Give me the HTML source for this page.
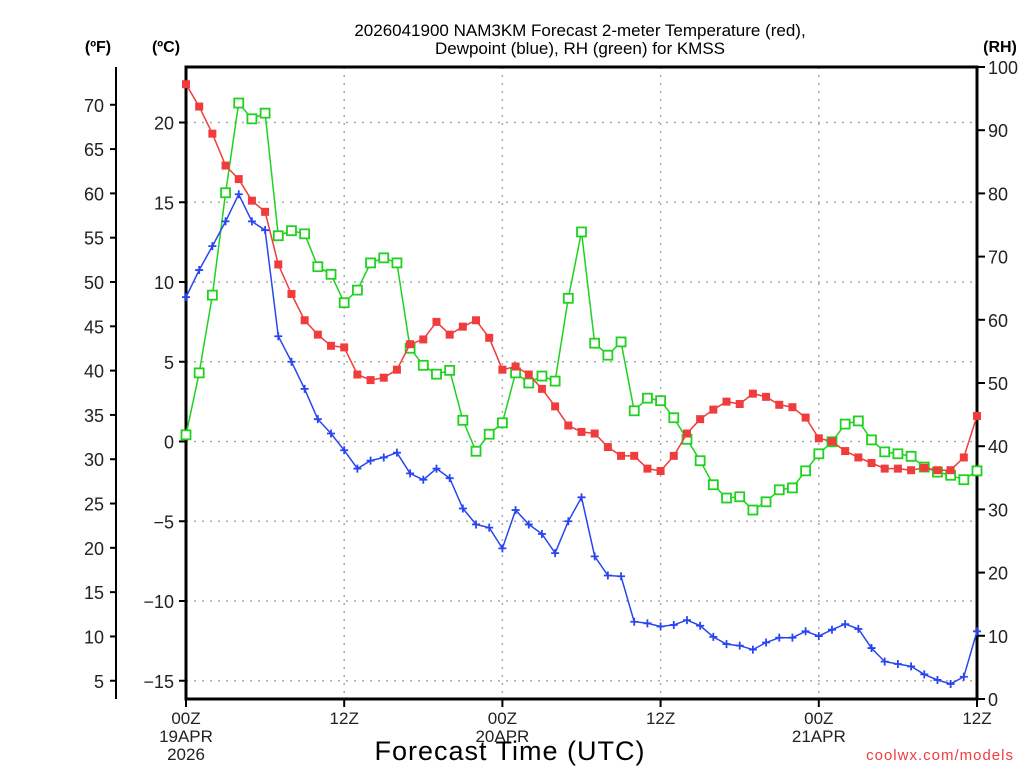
<!DOCTYPE html>
<html><head><meta charset="utf-8"><style>
body{margin:0;background:#fff;}
svg{display:block;font-family:"Liberation Sans",sans-serif;}
</style></head><body>
<svg id="chart" width="1024" height="768" viewBox="0 0 1024 768">
<rect width="1024" height="768" fill="#fff"/>
<g id="grid"></g>
<g id="axes"></g>
<g id="series"></g>
<text x="580" y="36" text-anchor="middle" font-size="17" fill="#000">2026041900 NAM3KM Forecast 2-meter Temperature (red),</text>
<text x="580" y="54" text-anchor="middle" font-size="17" fill="#000">Dewpoint (blue), RH (green) for KMSS</text>
<text x="98" y="52" text-anchor="middle" font-size="16" font-weight="bold">(ºF)</text>
<text x="166" y="52" text-anchor="middle" font-size="16" font-weight="bold">(ºC)</text>
<text x="1000" y="52" text-anchor="middle" font-size="16" font-weight="bold">(RH)</text>
<text x="510" y="760" text-anchor="middle" font-size="27" letter-spacing="1">Forecast Time (UTC)</text>
<text x="1014" y="760" text-anchor="end" font-size="15" fill="#f03c3c" letter-spacing="1">coolwx.com/models</text>
</svg>
<script>
const hours=[0,1,2,3,4,5,6,7,8,9,10,11,12,13,14,15,16,17,18,19,20,21,22,23,24,25,26,27,28,29,30,31,32,33,34,35,36,37,38,39,40,41,42,43,44,45,46,47,48,49,50,51,52,53,54,55,56,57,58,59,60];
const tempC=[22.4,21.0,19.3,17.3,16.45,15.1,14.4,11.1,9.25,7.6,6.7,6.0,5.9,4.2,3.85,4.0,4.5,6.1,6.4,7.5,6.7,7.2,7.6,6.5,4.5,4.7,4.2,3.3,2.2,1.0,0.6,0.5,-0.35,-0.9,-0.9,-1.7,-1.85,-0.9,0.5,1.4,2.0,2.5,2.35,3.0,2.8,2.3,2.15,1.5,0.2,0.0,-0.6,-1.0,-1.35,-1.7,-1.7,-1.8,-1.65,-1.8,-1.8,-1.0,1.6];
const dewC=[9.05,10.75,12.25,13.8,15.5,13.8,13.25,6.6,5.0,3.3,1.4,0.5,-0.55,-1.7,-1.2,-1.0,-0.7,-2.0,-2.4,-1.7,-2.3,-4.2,-5.2,-5.4,-6.7,-4.3,-5.2,-5.8,-7.0,-5.0,-3.5,-7.2,-8.4,-8.45,-11.3,-11.4,-11.6,-11.5,-11.2,-11.55,-12.25,-12.7,-12.8,-13.05,-12.6,-12.3,-12.3,-11.9,-12.2,-11.8,-11.45,-11.75,-12.95,-13.8,-13.95,-14.1,-14.6,-14.95,-15.2,-14.75,-11.9];
const rh=[41.8,51.6,63.9,80.1,94.3,91.8,92.7,73.3,74.1,73.6,68.4,67.2,62.7,64.7,69,69.8,69,55.5,52.8,51.4,52,44.1,39.2,41.9,43.7,51.6,50,51.1,50.3,63.4,73.9,56.3,54.4,56.5,45.6,47.6,47.2,44.5,41.1,37.7,33.9,31.8,32.0,29.9,31.2,33.1,33.4,36.1,38.8,40.7,43.5,44,41,39.1,38.8,38.4,36.7,35.9,35.4,34.7,36.1];
const cTicks=[20,15,10,5,0,-5,-10,-15];
const cTickLabels=["20","15","10","5","0","−5","−10","−15"];
const fTicks=[70,65,60,55,50,45,40,35,30,25,20,15,10,5];
const rhTicks=[100,90,80,70,60,50,40,30,20,10,0];
const xTicks=[0,12,24,36,48,60];
const xTickLabels=[["00Z","19APR","2026"],["12Z"],["00Z","20APR"],["12Z"],["00Z","21APR"],["12Z"]];

const L=186,R=977,T=67,B=699;
const xs=h=>L+(R-L)*h/60;
const yC=c=>441.5-15.95*c;
const yF=f=>yC((f-32)*5/9);
const yRH=r=>B-(B-T)*r/100;
const NS="http://www.w3.org/2000/svg";
function mk(tag,attrs,parent){const e=document.createElementNS(NS,tag);for(const k in attrs)e.setAttribute(k,attrs[k]);parent.appendChild(e);return e;}
const grid=document.getElementById('grid'),axes=document.getElementById('axes'),ser=document.getElementById('series');

cTicks.forEach((c,i)=>{
 const g=mk('line',{x1:L,x2:R,y1:yC(c),y2:yC(c),stroke:'#aaa','stroke-width':1.5,'stroke-dasharray':'2 6'},grid);
 
 
 const t=mk('line',{x1:179,x2:L,y1:yC(c),y2:yC(c),stroke:'#000','stroke-width':2},axes);
 
 
 const lb=mk('text',{x:174,y:yC(c)+7,'text-anchor':'end','font-size':18,fill:'#222'},axes);
 lb.textContent=cTickLabels[i];
 
 
});
xTicks.forEach((h,i)=>{
 if(h>0&&h<60){const g=mk('line',{x1:xs(h),x2:xs(h),y1:T,y2:B,stroke:'#aaa','stroke-width':1.5,'stroke-dasharray':'2 6'},grid);
 
 }
 const t=mk('line',{x1:xs(h),x2:xs(h),y1:B,y2:B+8,stroke:'#000','stroke-width':2},axes);
 
 
 xTickLabels[i].forEach((s,j)=>{
  const lb=mk('text',{x:xs(h),y:724+j*18,'text-anchor':'middle','font-size':17,fill:'#222'},axes);
  lb.textContent=s;
  
  
 });
});
fTicks.forEach(f=>{
 const t=mk('line',{x1:110,x2:116,y1:yF(f),y2:yF(f),stroke:'#000','stroke-width':2},axes);
 
 
 const lb=mk('text',{x:104,y:yF(f)+7,'text-anchor':'end','font-size':18,fill:'#222'},axes);
 lb.textContent=f;
 
 
});
rhTicks.forEach(r=>{
 const t=mk('line',{x1:R,x2:R+8,y1:yRH(r),y2:yRH(r),stroke:'#000','stroke-width':2},axes);
 
 
 const lb=mk('text',{x:988,y:yRH(r)+7,'font-size':18,fill:'#222'},axes);
 lb.textContent=r;
 
 
});
const fl=mk('line',{x1:116,x2:116,y1:T,y2:B,stroke:'#000','stroke-width':2},axes);


const box=mk('rect',{x:L,y:T,width:R-L,height:B-T,fill:'none',stroke:'#000','stroke-width':3},axes);



function series(vals,yfn,color,name){
 const pts=hours.map((h,i)=>xs(h).toFixed(1)+','+yfn(vals[i]).toFixed(1)).join(' ');
 const pl=mk('polyline',{points:pts,fill:'none',stroke:color,'stroke-width':1.5},ser);
 
 
 return hours.map((h,i)=>[xs(h),yfn(vals[i])]);
}
series(rh,yRH,'#1ed21e','rh').forEach(([x,y])=>{
 const m=mk('rect',{x:x-4.5,y:y-4.5,width:9,height:9,fill:'#fff',stroke:'#1ed21e','stroke-width':1.8},ser);
 
 
});
series(tempC,yC,'#f03c3c','temperature').forEach(([x,y])=>{
 const m=mk('rect',{x:x-4,y:y-4,width:8,height:8,fill:'#f03c3c'},ser);
 
 
});
series(dewC,yC,'#2846f0','dewpoint').forEach(([x,y])=>{
 const m=mk('path',{d:`M${x-4},${y}H${x+4}M${x},${y-4}V${y+4}`,stroke:'#2846f0','stroke-width':1.8},ser);
 
 
});
</script>
</body></html>
